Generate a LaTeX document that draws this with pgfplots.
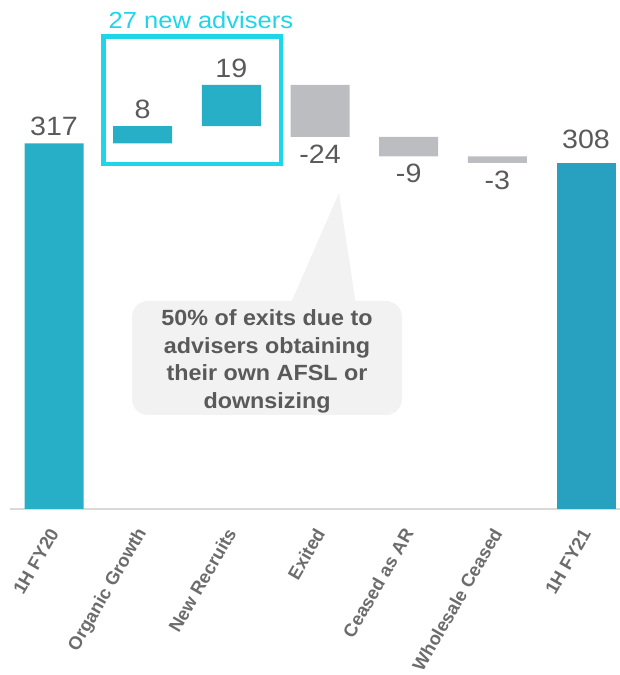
\documentclass[border=0pt]{standalone}
\usepackage{pgfplots}
\pgfplotsset{compat=1.18}
\usepackage{fontspec}
\setmainfont{Liberation Sans}
\usepackage{graphicx}
\definecolor{tealbar}{HTML}{27AFC7}
\definecolor{darkteal}{HTML}{28A0BF}
\definecolor{graybar}{HTML}{BCBDC1}
\definecolor{cyanbox}{HTML}{1FD5E8}
\definecolor{valgray}{HTML}{5A5A5A}
\definecolor{tickgray}{HTML}{6C6C6C}
\definecolor{calloutfill}{HTML}{F2F2F2}
\definecolor{axisgray}{HTML}{D9D9D9}
\pgfplotsset{commonaxis/.style={
  at={(9.7pt,166pt)}, anchor=south west,
  width=610.3pt, height=509pt, scale only axis,
  xmin=-0.5, xmax=6.383, ymin=148.3, ymax=383.2}}
\begin{document}
\begin{tikzpicture}
\useasboundingbox (0pt,0pt) rectangle (620pt,675pt);
% callout (behind everything)
\fill[calloutfill, rounded corners=16pt] (132pt,260pt) rectangle (402pt,374pt);
\fill[calloutfill] (290pt,370pt) -- (356pt,370pt) -- (339pt,482pt) -- cycle;
\node[align=center, anchor=north, inner sep=0pt, text=valgray,
      font=\fontsize{22}{27.7}\selectfont\bfseries] at (267pt,365.7pt)
  {\scalebox{1.06}[1]{50\% of exits due to}\\\scalebox{1.06}[1]{advisers obtaining}\\\scalebox{1.06}[1]{their own AFSL or}\\\scalebox{1.06}[1]{downsizing}};
% bars
\begin{axis}[
  commonaxis,
  ybar stacked, bar width=59pt,
  axis x line*=bottom, axis y line=none,
  x axis line style={draw=axisgray, line width=2pt},
  xtick={0,1,2,3,4,5,6},
  xticklabels={1H FY20, Organic Growth, New Recruits, Exited, Ceased as AR, Wholesale Ceased, 1H FY21},
  major tick length=0pt,
  xticklabel style={font=\fontsize{18.3}{21}\selectfont\bfseries, text=tickgray, rotate=60, anchor=east, inner sep=0pt},
  xticklabel shift=21pt,
]
% invisible base
\addplot[draw=none, fill=none]
  coordinates {(0,0) (1,317) (2,325) (3,320) (4,311) (5,308) (6,0)};
% teal increases
\addplot[draw=none, fill=tealbar]
  coordinates {(0,317) (1,8) (2,19) (3,0) (4,0) (5,0) (6,0)};
% gray decreases
\addplot[draw=none, fill=graybar]
  coordinates {(0,0) (1,0) (2,0) (3,24) (4,9) (5,3) (6,0)};
% final total
\addplot[draw=none, fill=darkteal]
  coordinates {(0,0) (1,0) (2,0) (3,0) (4,0) (5,0) (6,308)};
\end{axis}
% value labels
\begin{axis}[
  commonaxis, hide axis, clip=false,
  point meta=explicit symbolic,
  nodes near coords={\scalebox{1.08}[1]{\pgfplotspointmeta}},
  every node near coord/.append style={font=\fontsize{26.5}{30}\selectfont, text=valgray, inner sep=0pt},
]
\addplot[draw=none, mark=none, nodes near coords align={center},
  every node near coord/.append style={anchor=south, yshift=7pt}]
  coordinates {(0,317) [317] (1,325) [8] (2,344) [19]};
\addplot[draw=none, mark=none, nodes near coords align={center},
  every node near coord/.append style={anchor=south, yshift=14pt}]
  coordinates {(6,308) [308]};
\addplot[draw=none, mark=none, nodes near coords align={center},
  every node near coord/.append style={anchor=north, yshift=-7.5pt}]
  coordinates {(3,320) [-24] (4,311) [-9] (5,308) [-3]};
\end{axis}
% 27 new advisers box
\draw[cyanbox, line width=4.7pt] (103.5pt,511pt) rectangle (281pt,638.5pt);
\node[anchor=base west, inner sep=0pt, text=cyanbox, font=\fontsize{23.2}{28}\selectfont]
  at (108.5pt,646.7pt) {\scalebox{1.1}[1]{27 new advisers}};
\end{tikzpicture}
\end{document}
